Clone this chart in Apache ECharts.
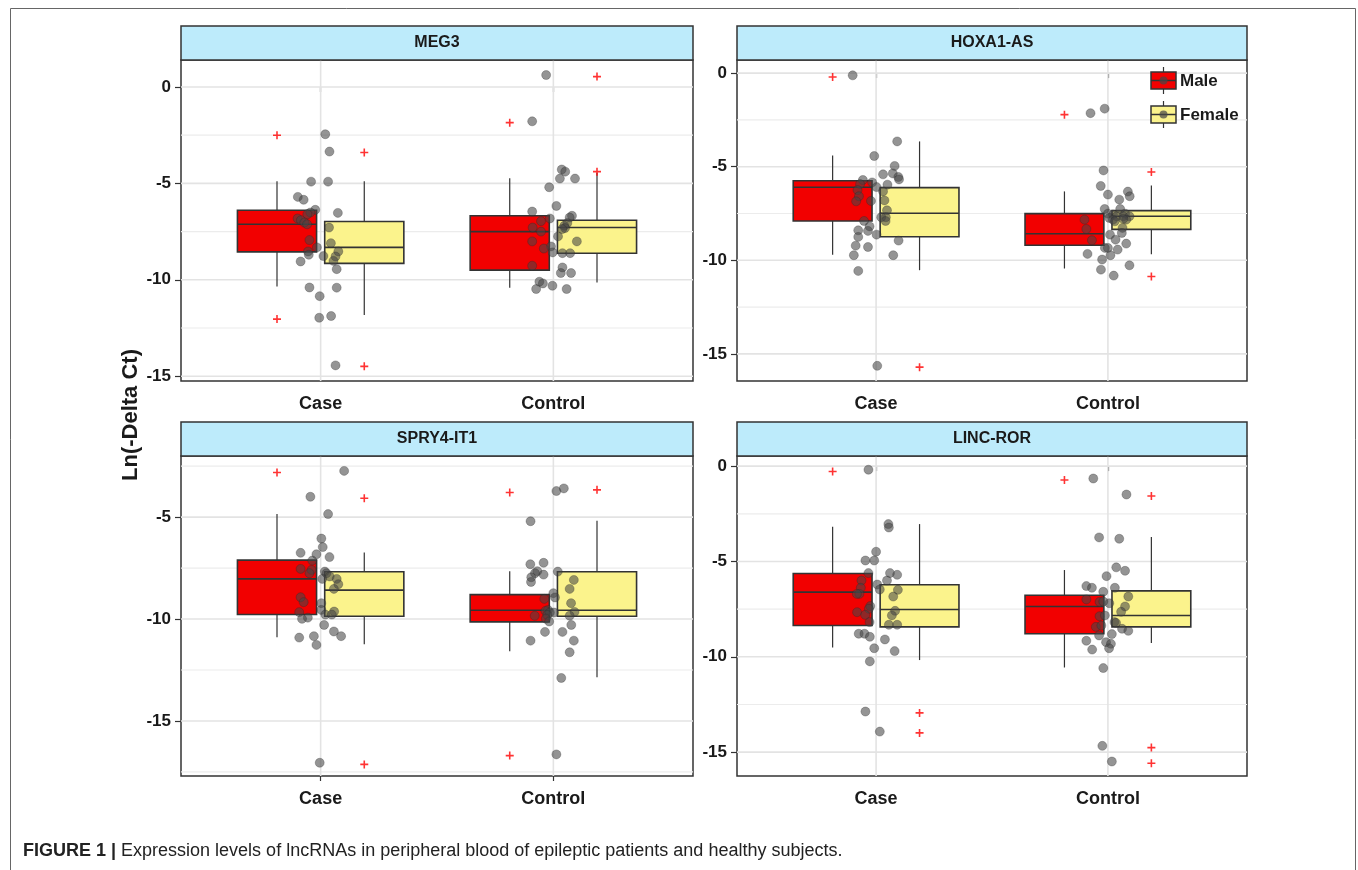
<!DOCTYPE html>
<html><head><meta charset="utf-8">
<script src="https://cdn.jsdelivr.net/npm/echarts@6/dist/echarts.min.js"></script>
<style>html,body{margin:0;padding:0;background:#fff;}#c{width:1358px;height:870px;}</style>
</head><body><div id="c"></div>
<script>
// ---------- DATA ----------
const panelTitles = ['MEG3', 'HOXA1-AS', 'SPRY4-IT1', 'LINC-ROR'];
const groups = ['Case', 'Control'];
const sexes = ['Male', 'Female'];
const yTickLabels = [[0, -5, -10, -15], [0, -5, -10, -15], [-5, -10, -15], [0, -5, -10, -15]];
const yMinorBreaks = [[-2.5, -7.5, -12.5], [-2.5, -7.5, -12.5], [-2.5, -7.5, -12.5, -17.5], [-2.5, -7.5, -12.5]];
const yLimits = [[-15.25, 1.4], [-16.45, 0.7], [-17.7, -2.0], [-16.25, 0.53]];
const xCategoryPos = [1, 2];

// box stats: [group (1=Case, 2=Control), q1, median, q3, lowerWhisker, upperWhisker]
const meg3Male = [[1, -8.55, -7.12, -6.39, -10.35, -4.89], [2, -9.50, -7.50, -6.68, -10.41, -4.73]];
const meg3Female = [[1, -9.15, -8.32, -6.98, -11.83, -4.89], [2, -8.62, -7.29, -6.91, -10.14, -4.45]];
const hoxMale = [[1, -7.90, -6.10, -5.75, -9.70, -4.40], [2, -9.20, -8.58, -7.51, -10.44, -6.32]];
const hoxFemale = [[1, -8.74, -7.49, -6.12, -10.53, -3.65], [2, -8.35, -7.65, -7.35, -9.68, -6.00]];
const spryMale = [[1, -9.78, -8.03, -7.11, -10.89, -4.84], [2, -10.14, -9.57, -8.80, -11.58, -7.65]];
const spryFemale = [[1, -9.86, -8.58, -7.68, -11.24, -6.73], [2, -9.86, -9.57, -7.68, -12.86, -5.18]];
const lincMale = [[1, -8.36, -6.61, -5.63, -9.51, -3.18], [2, -8.79, -7.36, -6.77, -10.56, -5.45]];
const lincFemale = [[1, -8.43, -7.52, -6.22, -10.17, -3.04], [2, -8.43, -7.83, -6.54, -9.28, -3.72]];

// boxplot outliers: [group, value]
const meg3MaleOut = [[1, -2.50], [1, -12.04], [2, -1.85]];
const meg3FemaleOut = [[1, -3.40], [1, -14.49], [2, 0.54], [2, -4.39]];
const hoxMaleOut = [[1, -0.21], [2, -2.22]];
const hoxFemaleOut = [[1, -15.71], [2, -5.28], [2, -10.87]];
const spryMaleOut = [[1, -2.81], [2, -3.79], [2, -16.70]];
const spryFemaleOut = [[1, -4.07], [1, -17.13], [2, -3.66]];
const lincMaleOut = [[1, -0.28], [2, -0.73]];
const lincFemaleOut = [[1, -12.94], [1, -13.99], [2, -1.57], [2, -14.76], [2, -15.58]];

// jittered raw points: [x (jittered group), value]
const meg3Points = [
  [1.020,-2.45],[1.038,-3.35],[0.959,-4.91],[1.032,-4.91],[0.902,-5.70],[0.927,-5.85],[0.977,-6.37],[0.956,-6.51],
  [0.943,-6.60],[1.074,-6.53],[0.901,-6.82],[0.915,-6.91],[0.930,-7.03],[0.942,-7.12],[1.036,-7.29],[0.952,-7.94],
  [1.044,-8.10],[0.984,-8.32],[0.946,-8.53],[0.949,-8.70],[1.076,-8.53],[1.012,-8.77],[1.064,-8.79],[1.055,-9.02],
  [0.914,-9.05],[1.069,-9.45],[0.952,-10.40],[1.069,-10.41],[0.996,-10.85],[0.994,-11.97],[1.045,-11.88],[1.064,-14.44],
  [1.969,0.62],[1.909,-1.78],[2.036,-4.28],[2.051,-4.39],[2.028,-4.75],[2.093,-4.75],[1.982,-5.20],[2.013,-6.17],
  [1.909,-6.46],[2.080,-6.68],[2.070,-6.77],[1.985,-6.82],[1.947,-6.96],[2.060,-7.06],[2.047,-7.20],[1.911,-7.29],
  [2.050,-7.32],[2.038,-7.37],[1.947,-7.50],[2.020,-7.75],[1.909,-8.01],[2.101,-8.01],[1.990,-8.27],[1.959,-8.38],
  [1.997,-8.58],[2.039,-8.62],[2.072,-8.62],[1.909,-9.27],[2.039,-9.36],[2.032,-9.65],[2.076,-9.65],[1.940,-10.10],
  [1.955,-10.19],[1.996,-10.31],[1.926,-10.48],[2.057,-10.48]
];
const hoxPoints = [
  [0.899,-0.12],[1.091,-3.65],[0.992,-4.43],[1.080,-4.96],[1.030,-5.41],[1.072,-5.36],[1.096,-5.55],[1.099,-5.68],
  [0.943,-5.71],[0.983,-5.84],[0.931,-5.93],[1.049,-5.96],[1.002,-6.09],[0.920,-6.25],[1.030,-6.32],[0.926,-6.58],
  [0.914,-6.85],[1.036,-6.80],[0.978,-6.83],[1.047,-7.33],[1.042,-7.70],[1.022,-7.70],[1.041,-7.90],[0.948,-7.90],
  [0.972,-8.19],[0.923,-8.40],[0.965,-8.43],[1.002,-8.63],[0.923,-8.75],[1.097,-8.95],[0.912,-9.22],[0.965,-9.29],
  [0.904,-9.73],[1.074,-9.73],[0.923,-10.57],[1.005,-15.64],
  [1.925,-2.14],[1.986,-1.90],[1.981,-5.20],[1.969,-6.03],[2.000,-6.49],[2.086,-6.33],[2.094,-6.58],[2.049,-6.76],
  [1.986,-7.26],[2.053,-7.26],[2.000,-7.51],[2.022,-7.56],[2.074,-7.51],[2.038,-7.65],[2.066,-7.65],[2.006,-7.74],
  [2.022,-7.83],[2.093,-7.65],[1.899,-7.83],[2.079,-7.83],[2.030,-7.92],[2.066,-7.79],[2.063,-8.27],[1.907,-8.33],
  [2.060,-8.54],[2.009,-8.63],[2.033,-8.90],[1.931,-8.93],[2.079,-9.11],[1.987,-9.34],[2.000,-9.34],[2.042,-9.43],
  [1.912,-9.66],[2.011,-9.73],[1.975,-9.96],[1.970,-10.50],[2.093,-10.27],[2.025,-10.82]
];
const spryPoints = [
  [1.101,-2.73],[0.956,-4.00],[1.032,-4.85],[1.003,-6.05],[1.009,-6.47],[0.914,-6.75],[0.982,-6.82],[1.038,-6.96],
  [0.964,-7.13],[0.914,-7.54],[0.961,-7.59],[0.952,-7.75],[1.018,-7.67],[1.025,-7.75],[1.039,-7.91],[1.007,-8.03],
  [1.069,-8.03],[1.076,-8.29],[1.057,-8.52],[0.914,-8.93],[0.927,-9.17],[1.003,-9.22],[1.003,-9.55],[0.908,-9.66],
  [1.058,-9.63],[1.020,-9.78],[1.048,-9.78],[0.945,-9.93],[0.920,-9.99],[1.015,-10.29],[1.057,-10.61],[1.088,-10.84],
  [0.908,-10.91],[0.971,-10.84],[0.982,-11.27],[0.996,-17.05],
  [2.013,-3.72],[2.045,-3.59],[1.902,-5.20],[1.901,-7.31],[1.958,-7.24],[1.931,-7.65],[1.921,-7.75],[1.958,-7.82],
  [1.905,-7.95],[2.019,-7.67],[1.904,-8.18],[2.088,-8.08],[2.070,-8.52],[2.000,-8.73],[2.007,-8.94],[1.961,-9.01],
  [2.076,-9.22],[1.977,-9.55],[1.966,-9.60],[1.985,-9.68],[2.091,-9.65],[2.003,-9.68],[1.974,-9.80],[1.920,-9.84],
  [2.070,-9.84],[1.968,-9.98],[1.982,-10.12],[2.077,-10.29],[1.964,-10.63],[2.039,-10.63],[1.902,-11.06],[2.088,-11.06],
  [2.070,-11.63],[2.034,-12.89],[2.013,-16.64]
];
const lincPoints = [
  [0.967,-0.19],[1.053,-3.04],[1.055,-3.22],[1.000,-4.49],[0.954,-4.95],[0.992,-4.95],[0.967,-5.61],[1.060,-5.61],
  [1.091,-5.70],[1.005,-6.21],[1.047,-6.00],[0.937,-6.00],[1.016,-6.47],[0.934,-6.38],[1.094,-6.49],[0.928,-6.70],
  [1.074,-6.84],[0.917,-6.70],[0.975,-7.34],[1.082,-7.59],[0.969,-7.48],[0.918,-7.66],[0.953,-7.80],[1.068,-7.83],
  [0.972,-8.18],[1.055,-8.32],[1.091,-8.32],[0.925,-8.79],[0.950,-8.79],[0.973,-8.95],[1.038,-9.09],[0.992,-9.55],
  [1.080,-9.70],[0.973,-10.24],[0.954,-12.87],[1.016,-13.92],
  [1.937,-0.65],[2.080,-1.49],[1.962,-3.74],[2.049,-3.81],[2.036,-5.31],[2.074,-5.49],[1.994,-5.77],[1.907,-6.29],
  [1.931,-6.38],[1.980,-6.59],[2.030,-6.38],[1.907,-6.99],[1.964,-7.12],[2.006,-7.19],[1.980,-7.10],[2.088,-6.84],
  [2.074,-7.36],[2.057,-7.64],[1.964,-7.87],[1.987,-7.83],[1.948,-8.43],[2.028,-8.18],[1.972,-8.36],[2.035,-8.22],
  [2.061,-8.53],[2.088,-8.64],[2.017,-8.81],[1.962,-8.88],[1.907,-9.16],[1.992,-9.23],[2.013,-9.32],[2.005,-9.55],
  [1.932,-9.62],[1.980,-10.59],[1.976,-14.67],[2.017,-15.49]
];

const maleBoxes = [meg3Male, hoxMale, spryMale, lincMale];
const femaleBoxes = [meg3Female, hoxFemale, spryFemale, lincFemale];
const maleOutliers = [meg3MaleOut, hoxMaleOut, spryMaleOut, lincMaleOut];
const femaleOutliers = [meg3FemaleOut, hoxFemaleOut, spryFemaleOut, lincFemaleOut];
const jitterPoints = [meg3Points, hoxPoints, spryPoints, lincPoints];

// ---------- LAYOUT / STYLE ----------
const gridLayout = [
  {left: 181, top: 60, width: 512, height: 321},
  {left: 737, top: 60, width: 510, height: 321},
  {left: 181, top: 456, width: 512, height: 320},
  {left: 737, top: 456, width: 510, height: 320}
];
const X_MIN = 0.4, X_MAX = 2.6, DODGE = 0.1875, BOX_W = 0.34;
const MALE_FILL = '#f20000', FEMALE_FILL = '#fbf38c', LINE = '#333333';
const FONT = 'Liberation Sans, Arial, sans-serif';
const plusPath = 'path://M3.6,0H5.4V3.6H9V5.4H5.4V9H3.6V5.4H0V3.6H3.6Z';

const chart = echarts.init(document.getElementById('c'), null, {renderer: 'canvas'});

const grids = [], xAxes = [], yAxes = [], series = [], graphics = [];

function boxRender(offset, fill) {
  return function (params, api) {
    const x = api.value(0) + offset;
    const q1 = api.value(1), med = api.value(2), q3 = api.value(3), lo = api.value(4), hi = api.value(5);
    const tl = api.coord([x - BOX_W / 2, q3]);
    const br = api.coord([x + BOX_W / 2, q1]);
    const cHi = api.coord([x, hi]);
    const cLo = api.coord([x, lo]);
    const cMed = api.coord([x, med]);
    return {
      type: 'group',
      children: [
        {type: 'line', shape: {x1: cHi[0], y1: cHi[1], x2: cHi[0], y2: tl[1]}, style: {stroke: LINE, lineWidth: 1.2}},
        {type: 'line', shape: {x1: cLo[0], y1: br[1], x2: cLo[0], y2: cLo[1]}, style: {stroke: LINE, lineWidth: 1.2}},
        {type: 'rect', shape: {x: tl[0], y: tl[1], width: br[0] - tl[0], height: br[1] - tl[1]},
          style: {fill: fill, stroke: LINE, lineWidth: 1.6}},
        {type: 'line', shape: {x1: tl[0], y1: cMed[1], x2: br[0], y2: cMed[1]}, style: {stroke: LINE, lineWidth: 1.6}}
      ]
    };
  };
}

for (let i = 0; i < 4; i++) {
  const g = gridLayout[i];
  grids.push(Object.assign({show: true, backgroundColor: '#fff', borderColor: LINE, borderWidth: 1.5}, g));
  xAxes.push({
    gridIndex: i, type: 'value', min: X_MIN, max: X_MAX,
    axisLine: {show: false}, splitLine: {show: false},
    axisTick: {show: true, customValues: xCategoryPos, length: 5, lineStyle: {color: LINE, width: 1.2}},
    axisLabel: {customValues: xCategoryPos, formatter: v => groups[Math.round(v) - 1],
      fontSize: 18, fontWeight: 'bold', color: '#1a1a1a', fontFamily: FONT, margin: 14}
  });
  yAxes.push({
    gridIndex: i, type: 'value', min: yLimits[i][0], max: yLimits[i][1],
    axisLine: {show: false}, splitLine: {show: false},
    axisTick: {show: true, customValues: yTickLabels[i], length: 6, lineStyle: {color: LINE, width: 1.2}},
    axisLabel: {customValues: yTickLabels[i], fontSize: 17, fontWeight: 'bold', color: '#1a1a1a', fontFamily: FONT, margin: 10}
  });

  // grid lines (minor + major horizontal, major vertical)
  const hLines = yMinorBreaks[i].map(v => [1, v, 0]).concat(yTickLabels[i].map(v => [1, v, 1]));
  series.push({
    type: 'custom', xAxisIndex: i, yAxisIndex: i, z: 1, silent: true,
    data: hLines, encode: {x: 0, y: 1},
    renderItem: (params, api) => {
      const cs = params.coordSys;
      const y = api.coord([1, api.value(1)])[1];
      const major = api.value(2) === 1;
      return {type: 'line', shape: {x1: cs.x, y1: y, x2: cs.x + cs.width, y2: y},
        style: {stroke: major ? '#e3e3e3' : '#ececec', lineWidth: major ? 1.6 : 1.2}};
    }
  });
  series.push({
    type: 'custom', xAxisIndex: i, yAxisIndex: i, z: 1, silent: true,
    data: xCategoryPos.map(c => [c, yLimits[i][0]]), encode: {x: 0, y: 1},
    renderItem: (params, api) => {
      const cs = params.coordSys;
      const x = api.coord([api.value(0), yLimits[i][0]])[0];
      return {type: 'line', shape: {x1: x, y1: cs.y, x2: x, y2: cs.y + cs.height},
        style: {stroke: '#e3e3e3', lineWidth: 1.6}};
    }
  });
  // boxes
  series.push({
    type: 'custom', name: 'Male', xAxisIndex: i, yAxisIndex: i, z: 2, silent: true,
    data: maleBoxes[i], encode: {x: 0, y: [1, 2, 3, 4, 5]},
    renderItem: boxRender(-DODGE, MALE_FILL)
  });
  series.push({
    type: 'custom', name: 'Female', xAxisIndex: i, yAxisIndex: i, z: 2, silent: true,
    data: femaleBoxes[i], encode: {x: 0, y: [1, 2, 3, 4, 5]},
    renderItem: boxRender(DODGE, FEMALE_FILL)
  });
  // jittered points
  series.push({
    type: 'scatter', xAxisIndex: i, yAxisIndex: i, z: 3, silent: true,
    data: jitterPoints[i], symbol: 'circle', symbolSize: 9,
    itemStyle: {color: 'rgba(70,70,70,0.72)', borderColor: 'rgba(40,40,40,0.6)', borderWidth: 0.6}
  });
  // outliers (+)
  const outs = maleOutliers[i].map(d => [d[0] - DODGE, d[1]]).concat(femaleOutliers[i].map(d => [d[0] + DODGE, d[1]]));
  series.push({
    type: 'scatter', xAxisIndex: i, yAxisIndex: i, z: 4, silent: true,
    data: outs, symbol: plusPath, symbolSize: 8,
    itemStyle: {color: '#ff0000'}
  });

  // facet strip
  graphics.push({
    type: 'rect', z: 10,
    shape: {x: g.left, y: g.top - 34, width: g.width, height: 34},
    style: {fill: '#bdebfb', stroke: LINE, lineWidth: 1.5}
  });
  graphics.push({
    type: 'text', z: 11, x: g.left + g.width / 2, y: g.top - 17,
    style: {text: panelTitles[i], font: 'bold 16px ' + FONT, fill: '#1a1a1a', align: 'center', verticalAlign: 'middle'}
  });
}

// outer figure frame
graphics.push({type: 'rect', z: 0, shape: {x: 10.5, y: 8.5, width: 1345, height: 900}, style: {fill: 'none', stroke: '#666', lineWidth: 1}});
// y-axis title
graphics.push({
  type: 'text', z: 11, x: 131, y: 415, rotation: Math.PI / 2,
  style: {text: 'Ln(-Delta Ct)', font: 'bold 22px ' + FONT, fill: '#1a1a1a', align: 'center', verticalAlign: 'middle'}
});
// legend (inside HOXA1-AS panel)
const legendItems = [{label: sexes[0], fill: MALE_FILL, y: 72}, {label: sexes[1], fill: FEMALE_FILL, y: 106}];
legendItems.forEach(it => {
  graphics.push({type: 'line', z: 20, shape: {x1: 1163.5, y1: it.y - 5, x2: 1163.5, y2: it.y + 22}, style: {stroke: LINE, lineWidth: 1.2}});
  graphics.push({type: 'rect', z: 20, shape: {x: 1151, y: it.y, width: 25, height: 17}, style: {fill: it.fill, stroke: LINE, lineWidth: 1.5}});
  graphics.push({type: 'line', z: 20, shape: {x1: 1151, y1: it.y + 8.5, x2: 1176, y2: it.y + 8.5}, style: {stroke: LINE, lineWidth: 1.5}});
  graphics.push({type: 'circle', z: 21, shape: {cx: 1163.5, cy: it.y + 8.5, r: 4}, style: {fill: 'rgba(70,70,70,0.72)'}});
  graphics.push({type: 'text', z: 21, x: 1180, y: it.y + 9,
    style: {text: it.label, font: 'bold 17px ' + FONT, fill: '#1a1a1a', align: 'left', verticalAlign: 'middle'}});
});
// caption
graphics.push({
  type: 'text', z: 11, x: 23, y: 851,
  style: {
    text: '{b|FIGURE 1 |} Expression levels of lncRNAs in peripheral blood of epileptic patients and healthy subjects.',
    font: '18px ' + FONT, fill: '#222', align: 'left', verticalAlign: 'middle',
    rich: {b: {fontWeight: 'bold', fontSize: 18, fontFamily: FONT, fill: '#222'}}
  }
});

chart.setOption({
  backgroundColor: '#fff',
  animation: false,
  grid: grids, xAxis: xAxes, yAxis: yAxes, series: series,
  graphic: {elements: graphics}
});
</script></body></html>
